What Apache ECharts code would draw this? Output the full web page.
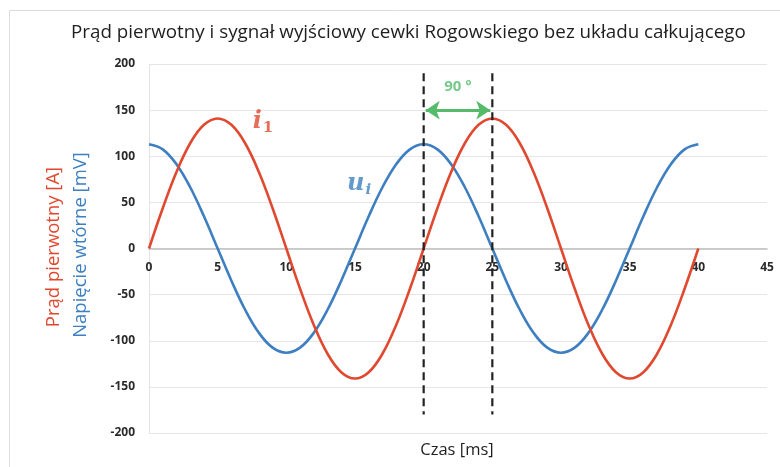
<!DOCTYPE html>
<html>
<head>
<meta charset="utf-8">
<script src="https://cdn.jsdelivr.net/npm/echarts@6/dist/echarts.min.js"></script>
<style>
  html, body { margin: 0; padding: 0; background: #ffffff; }
  #chart { width: 780px; height: 467px; }
</style>
</head>
<body>
<div id="chart"></div>
<script>
// Czas [ms]
const czas = [0,1,2,3,4,5,6,7,8,9,10,11,12,13,14,15,16,17,18,19,20,21,22,23,24,25,26,27,28,29,30,31,32,33,34,35,36,37,38,39,40];
// Prąd pierwotny i1 [A]
const prad = [0,43.6,82.9,114.1,134.1,141,134.1,114.1,82.9,43.6,0,-43.6,-82.9,-114.1,-134.1,-141,-134.1,-114.1,-82.9,-43.6,0,43.6,82.9,114.1,134.1,141,134.1,114.1,82.9,43.6,0,-43.6,-82.9,-114.1,-134.1,-141,-134.1,-114.1,-82.9,-43.6,0];
// Napięcie wtórne ui [mV]
const napiecie = [113,107.5,91.4,66.4,34.9,0,-34.9,-66.4,-91.4,-107.5,-113,-107.5,-91.4,-66.4,-34.9,0,34.9,66.4,91.4,107.5,113,107.5,91.4,66.4,34.9,0,-34.9,-66.4,-91.4,-107.5,-113,-107.5,-91.4,-66.4,-34.9,0,34.9,66.4,91.4,107.5,113];
// Znaczniki przesunięcia fazowego
const znaczniki = [20, 25];
const znacznikZakres = [190, -180];
const strzalkaY = 150;
const katLabel = '90 °';
const katPos = [22.5, 175];
const etykietaI = [8.3, 137];
const etykietaU = [15.3, 70];

const RED = '#e0492f';
const BLUE = '#3d7fc1';
const GREEN = '#55bb6b';

const chart = echarts.init(document.getElementById('chart'));

const italicSerif = {
  fontFamily: 'DejaVu Serif',
  fontStyle: 'italic',
  fontWeight: 'bold',
  fontSize: 24
};

const tickFont = { color: '#2a2a2a', fontFamily: 'Open Sans', fontWeight: 'bold', fontSize: 12 };

const option = {
  animation: false,
  backgroundColor: '#ffffff',
  title: {
    text: 'Prąd pierwotny i sygnał wyjściowy cewki Rogowskiego bez układu całkującego',
    left: 66,
    top: 18,
    textStyle: { fontFamily: 'Open Sans', fontWeight: 'normal', fontSize: 18.8, color: '#1e1e1e' }
  },
  grid: { left: 149, right: 13, top: 64, bottom: 34 },
  graphic: [
    {
      type: 'rect',
      shape: { x: 9.5, y: 10.5, width: 800, height: 500 },
      style: { fill: 'none', stroke: '#dcdcdc', lineWidth: 1 },
      silent: true
    },
    {
      type: 'text',
      x: 54, y: 247, rotation: Math.PI / 2,
      style: { text: 'Prąd pierwotny [A]', fill: RED, fontFamily: 'Open Sans', fontSize: 18.5, align: 'center', verticalAlign: 'middle' }
    },
    {
      type: 'text',
      x: 81, y: 245, rotation: Math.PI / 2,
      style: { text: 'Napięcie wtórne [mV]', fill: BLUE, fontFamily: 'Open Sans', fontSize: 18.5, align: 'center', verticalAlign: 'middle' }
    },
    {
      type: 'text',
      x: 457, y: 450,
      style: { text: 'Czas [ms]', fill: '#1e1e1e', fontFamily: 'Open Sans', fontSize: 16.5, align: 'center', verticalAlign: 'middle' }
    }
  ],
  xAxis: {
    type: 'value',
    min: 0, max: 45, interval: 5,
    offset: -184,
    axisLine: { onZero: false, lineStyle: { color: '#bfbfbf', width: 1.5 } },
    axisTick: { show: false },
    splitLine: { show: false },
    axisLabel: Object.assign({ margin: 13 }, tickFont)
  },
  yAxis: {
    type: 'value',
    min: -200, max: 200, interval: 50,
    axisLine: { show: true, lineStyle: { color: '#e3e3e3' } },
    axisTick: { show: false },
    splitLine: { lineStyle: { color: '#e6e6e6', width: 1 } },
    axisLabel: Object.assign({ margin: 14 }, tickFont)
  },
  series: [
    {
      name: 'ui',
      type: 'line',
      data: czas.map((t, i) => [t, napiecie[i]]),
      smooth: 0.4,
      symbol: 'none',
      lineStyle: { color: BLUE, width: 2.6 },
      z: 3
    },
    {
      name: 'i1',
      type: 'line',
      data: czas.map((t, i) => [t, prad[i]]),
      smooth: 0.4,
      symbol: 'none',
      lineStyle: { color: RED, width: 2.6 },
      z: 4
    },
    ...znaczniki.map(x => ({
      type: 'line',
      data: [[x, znacznikZakres[0]], [x, znacznikZakres[1]]],
      symbol: 'none',
      lineStyle: { color: '#222', width: 2.2, type: [8, 5] },
      z: 5
    })),
    {
      type: 'line',
      data: [[znaczniki[0], strzalkaY], [znaczniki[1], strzalkaY]],
      symbol: 'none',
      lineStyle: { width: 0 },
      markLine: {
        silent: true,
        symbol: ['arrow', 'arrow'],
        symbolSize: [14, 14],
        label: { show: false },
        lineStyle: { color: GREEN, width: 3, type: 'solid' },
        data: [[{ coord: [znaczniki[0] + 0.15, strzalkaY] }, { coord: [znaczniki[1] - 0.15, strzalkaY] }]]
      },
      z: 6
    },
    {
      type: 'scatter',
      data: [katPos],
      symbolSize: 0,
      label: {
        show: true, position: 'inside', formatter: katLabel,
        color: GREEN, fontFamily: 'Open Sans', fontWeight: 'bold', fontSize: 15
      },
      z: 7
    },
    {
      type: 'scatter',
      data: [etykietaI],
      symbolSize: 0,
      label: {
        show: true, position: 'inside',
        formatter: '{a|i}{b|1}',
        rich: {
          a: Object.assign({ color: RED }, italicSerif),
          b: { color: RED, fontFamily: 'DejaVu Serif', fontWeight: 'bold', fontSize: 15, padding: [12, 0, 0, 1] }
        }
      },
      z: 7
    },
    {
      type: 'scatter',
      data: [etykietaU],
      symbolSize: 0,
      label: {
        show: true, position: 'inside',
        formatter: '{a|u}{b|i}',
        rich: {
          a: Object.assign({ color: BLUE }, italicSerif),
          b: { color: BLUE, fontFamily: 'DejaVu Serif', fontWeight: 'bold', fontStyle: 'italic', fontSize: 15, padding: [12, 0, 0, 1] }
        }
      },
      z: 7
    }
  ]
};

chart.setOption(option);
</script>
</body>
</html>
